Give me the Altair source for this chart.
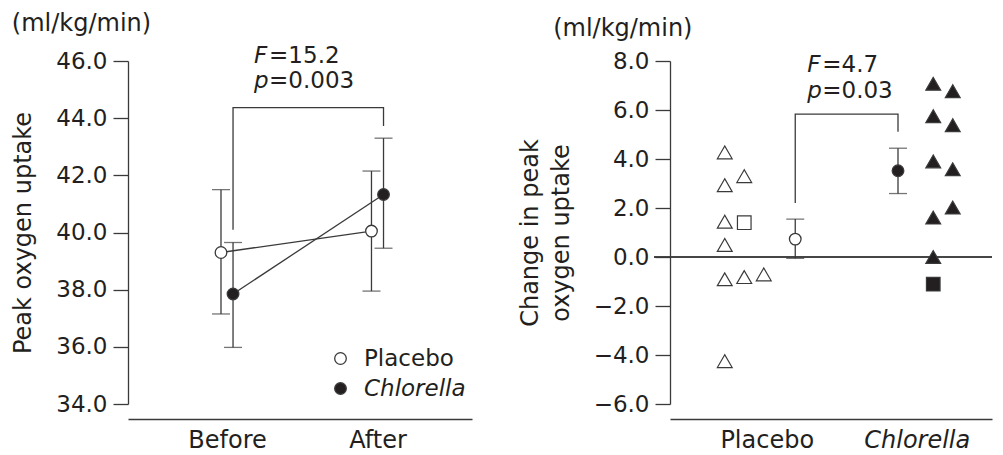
import altair as alt
import pandas as pd

FONT = "DejaVu Sans"
INK = "#231f20"
LINE = "#3a3a3a"

# ---------------- data: left panel (peak oxygen uptake) ----------------
time_labels = ["Before", "After"]
groups = ["Placebo", "Chlorella"]
placebo_mean = [39.30, 40.05]
placebo_lo = [37.15, 37.95]
placebo_hi = [41.50, 42.15]
chlorella_mean = [37.85, 41.33]
chlorella_lo = [35.98, 39.45]
chlorella_hi = [39.65, 43.30]
left_ticks = [34.0, 36.0, 38.0, 40.0, 42.0, 44.0, 46.0]
left_bracket_x = [0.04, 0.04, 1.04, 1.04]
left_bracket_y = [40.10, 44.37, 44.37, 43.73]
left_stat_x = [0.18, 0.18]
left_stat_y = [45.92, 45.07]
left_stat_sym = ["F", "p"]
left_stat_val = ["=15.2", "=0.003"]

# ---------------- data: right panel (change) ----------------
placebo_change = [4.27, 2.93, 1.44, 0.49, -0.91, -4.25, 3.30, 1.40, -0.82, -0.71]
placebo_col = [0, 0, 0, 0, 0, 0, 1, 1, 1, 2]
placebo_marker = ["triangle-up"] * 6 + ["triangle-up", "square", "triangle-up", "triangle-up"]
chlorella_change = [7.07, 5.75, 3.90, 1.61, 0.00, -1.11, 6.77, 5.38, 3.58, 2.02]
chlorella_col = [0, 0, 0, 0, 0, 0, 1, 1, 1, 1]
chlorella_marker = ["triangle-up"] * 5 + ["square"] + ["triangle-up"] * 4
change_mean = [0.73, 3.52]
change_lo = [-0.06, 2.59]
change_hi = [1.55, 4.44]
right_ticks = [-6.0, -4.0, -2.0, 0.0, 2.0, 4.0, 6.0, 8.0]
right_bracket_x = [0.19, 0.19, 0.875, 0.875]
right_bracket_y = [2.20, 5.83, 5.83, 5.11]
right_stat_x = [0.27, 0.27]
right_stat_y = [7.55, 6.48]
right_stat_sym = ["F", "p"]
right_stat_val = ["=4.7", "=0.03"]

unit_title = "(ml/kg/min)"

# ---------------- tables ----------------
left_df = pd.DataFrame({
    "t": [0, 1, 0, 1],
    "group": [groups[0]] * 2 + [groups[1]] * 2,
    "mean": placebo_mean + chlorella_mean,
    "lo": placebo_lo + chlorella_lo,
    "hi": placebo_hi + chlorella_hi,
})
left_br = pd.DataFrame({"x": left_bracket_x, "y": left_bracket_y, "i": range(4)})
left_st = pd.DataFrame({"x": left_stat_x, "y": left_stat_y, "sym": left_stat_sym, "val": left_stat_val})

subj_df = pd.DataFrame({
    "g": [0] * len(placebo_change) + [1] * len(chlorella_change),
    "group": [groups[0]] * len(placebo_change) + [groups[1]] * len(chlorella_change),
    "value": placebo_change + chlorella_change,
    "col": placebo_col + chlorella_col,
    "marker": placebo_marker + chlorella_marker,
})
mean_df = pd.DataFrame({"g": [0, 1], "group": groups, "mean": change_mean, "lo": change_lo, "hi": change_hi})
right_br = pd.DataFrame({"x": right_bracket_x, "y": right_bracket_y, "i": range(4)})
right_st = pd.DataFrame({"x": right_stat_x, "y": right_stat_y, "sym": right_stat_sym, "val": right_stat_val})

# ---------------- shared styling ----------------
FS = 24
W_L, W_R, H = 344, 322, 343

fill_scale = alt.Scale(domain=groups, range=["white", INK])


def y_axis(title, ticks, line_height=None):
    kw = dict(
        title=title, values=ticks, format=".1f", grid=False,
        tickSize=15, tickColor=LINE, tickWidth=1.3,
        domainColor=LINE, domainWidth=1.3,
        labelFont=FONT, labelFontSize=23, labelColor=INK, labelPadding=6,
        titleFont=FONT, titleFontSize=FS, titleFontWeight="normal", titleColor=INK,
        titlePadding=20,
    )
    if line_height:
        kw["titleLineHeight"] = line_height
    return alt.Axis(**kw)


def x_axis(labels, italic_second=False):
    expr = "[" + ",".join("'%s'" % s for s in labels) + "][datum.value]"
    kw = dict(
        title=None, values=[0, 1], labelExpr=expr, grid=False, ticks=False,
        domainColor=LINE, domainWidth=1.3, offset=15,
        labelFont=FONT, labelFontSize=FS, labelColor=INK, labelPadding=9,
    )
    if italic_second:
        kw["labelFontStyle"] = {"condition": {"test": "datum.value == 1", "value": "italic"}, "value": "normal"}
    return alt.Axis(**kw)


def title(dx=0):
    return alt.TitleParams(unit_title, anchor="start", frame="bounds", font=FONT, fontSize=FS,
                           fontWeight="normal", color=INK, offset=9, dx=dx)


# ---------------- left panel ----------------
xl = alt.Scale(domain=[-0.658, 1.628], nice=False, zero=False)
yl = alt.Scale(domain=[34, 46], nice=False, zero=False)

lbase = alt.Chart(left_df).transform_calculate(
    xpos="datum.t + (datum.group == 'Placebo' ? -0.04 : 0.04)"
)
X_L = alt.X("xpos:Q", scale=xl, axis=x_axis(time_labels))

l_stem = lbase.mark_rule(color=LINE, strokeWidth=1.3).encode(
    x=X_L, y=alt.Y("lo:Q", scale=yl, axis=y_axis("Peak oxygen uptake", left_ticks)), y2="hi:Q")
l_caps = lbase.transform_fold(["lo", "hi"], as_=["k", "v"]).mark_tick(
    orient="horizontal", size=18, thickness=1.3, color=LINE).encode(
    x=X_L, y=alt.Y("v:Q", scale=yl))
l_line = lbase.mark_line(color=LINE, strokeWidth=1.3).encode(
    x=X_L, y=alt.Y("mean:Q", scale=yl), detail="group:N")
l_pts = lbase.mark_point(filled=True, size=135, shape="circle", stroke=LINE, strokeWidth=1.3, opacity=1).encode(
    x=X_L, y=alt.Y("mean:Q", scale=yl),
    fill=alt.Fill("group:N", scale=fill_scale, legend=alt.Legend(
        title=None, orient="none", legendX=201, legendY=286, padding=0,
        symbolType="circle", symbolSize=135, symbolStrokeColor=LINE, symbolStrokeWidth=1.3,
        labelFont=FONT, labelFontSize=23, labelColor=INK, labelOffset=12, rowPadding=6,
        labelFontStyle={"expr": "datum.label == 'Chlorella' ? 'italic' : 'normal'"},
    )))
l_br = alt.Chart(left_br).mark_line(color=LINE, strokeWidth=1.3).encode(
    x=alt.X("x:Q", scale=xl), y=alt.Y("y:Q", scale=yl), order="i:Q")
l_sym = alt.Chart(left_st).mark_text(align="left", baseline="alphabetic", font=FONT, fontSize=23,
                                     fontStyle="italic", color=INK).encode(
    x=alt.X("x:Q", scale=xl), y=alt.Y("y:Q", scale=yl), text="sym:N")
l_val = alt.Chart(left_st).mark_text(align="left", baseline="alphabetic", font=FONT, fontSize=23,
                                     color=INK, dx=15).encode(
    x=alt.X("x:Q", scale=xl), y=alt.Y("y:Q", scale=yl), text="val:N")

left = alt.layer(l_stem, l_caps, l_line, l_br, l_pts, l_sym, l_val).properties(
    width=W_L, height=H, title=title())

# ---------------- right panel ----------------
xr = alt.Scale(domain=[-0.645, 1.5017], nice=False, zero=False)
yr = alt.Scale(domain=[-6, 8], nice=False, zero=False)
X_R_AX = x_axis(groups, italic_second=True)

r_zero = alt.Chart(mean_df).mark_rule(color=LINE, strokeWidth=1.3).encode(
    y=alt.Y(datum=0, scale=yr, axis=y_axis(["Change in peak", "oxygen uptake"], right_ticks, 31)),
    x=alt.value(-16), x2=alt.value(W_R))

r_subj = alt.Chart(subj_df).transform_calculate(
    xpos="datum.g + (datum.g == 0 ? -0.28 : 0.11) + datum.col * 0.13"
).mark_point(filled=True, stroke=LINE, strokeWidth=1.2, opacity=1).encode(
    x=alt.X("xpos:Q", scale=xr, axis=X_R_AX),
    y=alt.Y("value:Q", scale=yr),
    fill=alt.Fill("group:N", scale=fill_scale, legend=None),
    shape=alt.Shape("marker:N", scale=alt.Scale(domain=["triangle-up", "square"], range=["triangle-up", "square"]), legend=None),
    size=alt.Size("marker:N", scale=alt.Scale(domain=["triangle-up", "square"], range=[220, 185]), legend=None),
)

mbase = alt.Chart(mean_df).transform_calculate(
    xpos="datum.g + (datum.g == 0 ? 0.19 : -0.125)")
X_R = alt.X("xpos:Q", scale=xr, axis=X_R_AX)
r_stem = mbase.mark_rule(color=LINE, strokeWidth=1.3).encode(
    x=X_R, y=alt.Y("lo:Q", scale=yr), y2="hi:Q")
r_caps = mbase.transform_fold(["lo", "hi"], as_=["k", "v"]).mark_tick(
    orient="horizontal", size=18, thickness=1.3, color=LINE).encode(
    x=X_R, y=alt.Y("v:Q", scale=yr))
r_pts = mbase.mark_point(filled=True, size=135, shape="circle", stroke=LINE, strokeWidth=1.3, opacity=1).encode(
    x=X_R, y=alt.Y("mean:Q", scale=yr), fill=alt.Fill("group:N", scale=fill_scale, legend=None))
r_br = alt.Chart(right_br).mark_line(color=LINE, strokeWidth=1.3).encode(
    x=alt.X("x:Q", scale=xr), y=alt.Y("y:Q", scale=yr), order="i:Q")
r_sym = alt.Chart(right_st).mark_text(align="left", baseline="alphabetic", font=FONT, fontSize=23,
                                      fontStyle="italic", color=INK).encode(
    x=alt.X("x:Q", scale=xr), y=alt.Y("y:Q", scale=yr), text="sym:N")
r_val = alt.Chart(right_st).mark_text(align="left", baseline="alphabetic", font=FONT, fontSize=23,
                                      color=INK, dx=15).encode(
    x=alt.X("x:Q", scale=xr), y=alt.Y("y:Q", scale=yr), text="val:N")

right = alt.layer(r_zero, r_subj, r_stem, r_caps, r_br, r_pts, r_sym, r_val).properties(
    width=W_R, height=H, title=title(dx=35))

chart = alt.hconcat(left, right, spacing=46).resolve_scale(
    x="independent", y="independent", fill="shared"
).properties(
    padding={"left": 3, "top": 4, "right": 0, "bottom": 0}
).configure_view(strokeWidth=0, stroke="transparent")

chart.save("out.html", embed_options={"renderer": "svg", "actions": False})
